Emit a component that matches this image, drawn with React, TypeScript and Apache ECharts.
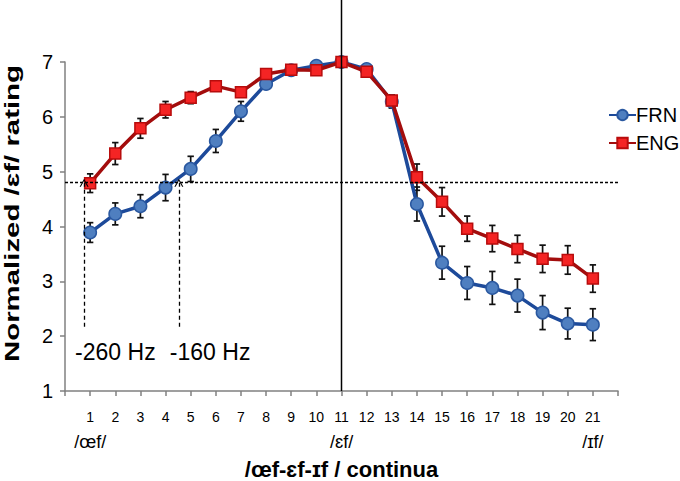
import React, { useEffect, useRef } from "react";
import * as echarts from "echarts";

const steps = [1, 2, 3, 4, 5, 6, 7, 8, 9, 10, 11, 12, 13, 14, 15, 16, 17, 18, 19, 20, 21];
const frn = [3.89, 4.23, 4.37, 4.71, 5.05, 5.56, 6.1, 6.6, 6.85, 6.93, 7.0, 6.87, 6.28, 4.41, 3.34, 2.97, 2.88, 2.74, 2.43, 2.23, 2.21];
const frnErr = [0.18, 0.2, 0.21, 0.24, 0.23, 0.21, 0.18, 0.08, 0.05, 0.04, 0.04, 0.05, 0.12, 0.31, 0.3, 0.3, 0.3, 0.3, 0.31, 0.28, 0.29];
const eng = [4.79, 5.33, 5.79, 6.13, 6.35, 6.56, 6.45, 6.78, 6.86, 6.85, 7.0, 6.82, 6.3, 4.9, 4.45, 3.96, 3.78, 3.59, 3.41, 3.39, 3.05];
const engErr = [0.17, 0.2, 0.18, 0.15, 0.11, 0.06, 0.08, 0.05, 0.05, 0.05, 0.04, 0.05, 0.08, 0.24, 0.26, 0.23, 0.24, 0.25, 0.25, 0.26, 0.25];
const endLabels: Record<number, string> = { 1: "/œf/", 11: "/ɛf/", 21: "/ɪf/" };
const threshold = 4.8;
const arrows = [
  { x: 0.76, from: 2.17, label: "-260 Hz" },
  { x: 4.53, from: 2.17, label: "-160 Hz" },
];
const divider = 11;
const yTitle = "Normalized /ɛf/ rating";
const xTitle = "/œf-ɛf-ɪf / continua";

const FONT = "'Liberation Sans', Arial, sans-serif";
const CHEVRON = "path://M0,10 L5,0 L10,10 L8.6,10 L5,2.8 L1.4,10 Z";

export default function App() {
  const ref = useRef<HTMLDivElement>(null);
  useEffect(() => {
    if (!ref.current) return;
    const chart = echarts.init(ref.current, undefined, { renderer: "svg" });
    const errRender = (params: any, api: any) => {
      const x = api.value(0);
      const y = api.value(1);
      const e = api.value(2);
      const t = api.coord([x, y + e]);
      const b = api.coord([x, y - e]);
      const cw = 3.2;
      const st = { stroke: "#111", lineWidth: 1.7 };
      return {
        type: "group",
        children: [
          { type: "line", shape: { x1: t[0], y1: t[1], x2: b[0], y2: b[1] }, style: st },
          { type: "line", shape: { x1: t[0] - cw, y1: t[1], x2: t[0] + cw, y2: t[1] }, style: st },
          { type: "line", shape: { x1: b[0] - cw, y1: b[1], x2: b[0] + cw, y2: b[1] }, style: st },
        ],
      };
    };
    chart.setOption({
      animation: false,
      textStyle: { fontFamily: FONT },
      grid: { left: 65, right: 62, top: 62, bottom: 90, outerBoundsMode: "none", containLabel: false },
      legend: {
        orient: "vertical",
        left: 608,
        top: 105,
        padding: 0,
        itemWidth: 27,
        itemHeight: 13,
        itemGap: 8,
        textStyle: { fontSize: 20, lineHeight: 20, color: "#000", fontFamily: FONT, padding: [0, 0, 0, -5] },
        data: ["FRN", "ENG"],
      },
      xAxis: {
        type: "value",
        min: 0,
        max: 22,
        interval: 1,
        splitLine: { show: false },
        axisLine: { lineStyle: { color: "#808080", width: 1.5 } },
        axisTick: { lineStyle: { color: "#808080", width: 1.5 }, length: 5 },
        axisLabel: {
          margin: 18,
          showMinLabel: true,
          showMaxLabel: true,
          verticalAlign: "top",
          formatter: (v: number) => {
            if (v < 1 || v > 21) return "";
            if (endLabels[v]) return `{t|${v}}\n{p|${endLabels[v]}}`;
            return `{t|${v}}`;
          },
          rich: {
            t: { fontSize: 14, lineHeight: 16, color: "#000", fontFamily: FONT },
            p: { fontSize: 18, lineHeight: 34, color: "#000", fontFamily: FONT },
          },
        },
        name: xTitle,
        nameLocation: "middle",
        nameGap: 67,
        nameTextStyle: { fontSize: 22, fontWeight: "bold", color: "#000", fontFamily: FONT },
      },
      yAxis: {
        type: "value",
        min: 1,
        max: 7,
        interval: 1,
        splitLine: { show: false },
        axisLine: { show: true, lineStyle: { color: "#808080", width: 1.5 } },
        axisTick: { show: true, lineStyle: { color: "#808080", width: 1.5 }, length: 5 },
        axisLabel: { fontSize: 20, color: "#000", margin: 12, fontFamily: FONT },
      },
      series: [
        {
          type: "custom",
          name: "frnErr",
          renderItem: errRender,
          data: steps.map((s, i) => [s, frn[i], frnErr[i]]),
          z: 1,
          silent: true,
        },
        {
          type: "custom",
          name: "engErr",
          renderItem: errRender,
          data: steps.map((s, i) => [s, eng[i], engErr[i]]),
          z: 1,
          silent: true,
        },
        {
          type: "line",
          name: "FRN",
          data: steps.map((s, i) => [s, frn[i]]),
          symbol: "circle",
          symbolSize: 12.5,
          lineStyle: { color: "#1d4a9a", width: 3.5 },
          itemStyle: { color: "#4f7fc0", borderColor: "#2a58a0", borderWidth: 1.5 },
          z: 3,
        },
        {
          type: "line",
          name: "ENG",
          data: steps.map((s, i) => [s, eng[i]]),
          symbol: "rect",
          symbolSize: 11,
          lineStyle: { color: "#a30d0d", width: 3.5 },
          itemStyle: { color: "#f42424", borderColor: "#b80c0c", borderWidth: 1.5 },
          z: 4,
          markLine: {
            silent: true,
            symbol: ["none", "none"],
            label: { show: false },
            animation: false,
            data: [
              { yAxis: threshold, lineStyle: { color: "#000", type: [3, 2], width: 1.3 } },
              ...arrows.map((a) => [
                { coord: [a.x, a.from], symbol: "none", lineStyle: { color: "#000", type: [4, 3], width: 1.3 } },
                { coord: [a.x, threshold], symbol: CHEVRON, symbolSize: [9, 8] },
              ]),
            ],
          },
        },
      ],
    });
    const base = chart.convertToPixel({ gridIndex: 0 }, [divider, 1]) as number[];
    const top = chart.convertToPixel({ gridIndex: 0 }, [0, 7]) as number[];
    const graphics: any[] = [
      {
        type: "line",
        shape: { x1: base[0], y1: 0, x2: base[0], y2: base[1] },
        style: { stroke: "#000", lineWidth: 1.5 },
        z: 10,
      },
      {
        type: "text",
        x: 12,
        y: (top[1] + base[1]) / 2 - 13,
        rotation: Math.PI / 2,
        scaleX: 1.4,
        scaleY: 1,
        style: {
          text: yTitle,
          fontSize: 21,
          fontWeight: "bold",
          fontFamily: FONT,
          fill: "#000",
          align: "center",
          verticalAlign: "middle",
        },
        z: 10,
      },
    ];
    arrows.forEach((a) => {
      const p = chart.convertToPixel({ gridIndex: 0 }, [a.x, a.from]) as number[];
      graphics.push({
        type: "text",
        x: p[0] - 9,
        y: p[1] + 25,
        style: {
          text: a.label,
          fontSize: 23,
          fontFamily: FONT,
          fill: "#000",
          verticalAlign: "middle",
          align: "left",
        },
        z: 10,
      });
    });
    chart.setOption({ graphic: graphics });
    return () => chart.dispose();
  }, []);
  return (
    <div
      ref={ref}
      style={{ position: "fixed", left: 0, top: 0, width: 680, height: 481, background: "#fff" }}
    />
  );
}
